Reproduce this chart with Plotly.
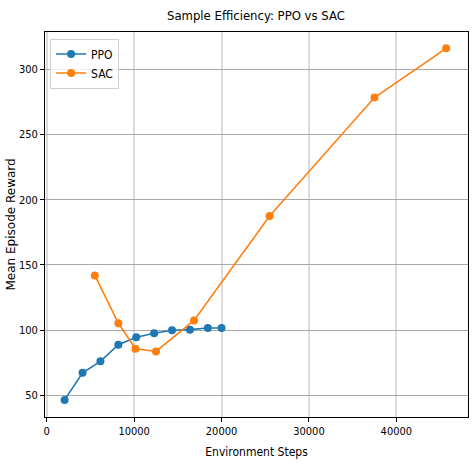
import plotly.graph_objects as go

# PPO
ppo_steps = [2048, 4096, 6144, 8192, 10240, 12288, 14336, 16384, 18432, 20000]
ppo_reward = [46.7, 67.5, 76.2, 89.0, 94.6, 97.7, 100.0, 100.5, 101.8, 101.8]

# SAC
sac_steps = [5500, 8200, 10150, 12500, 16850, 25500, 37500, 45700]
sac_reward = [142.0, 105.4, 85.9, 83.8, 107.5, 187.5, 278.2, 315.9]

font_narrow = "Liberation Sans Narrow, DejaVu Sans Condensed, Liberation Sans"

fig = go.Figure()
fig.add_scatter(
    x=ppo_steps, y=ppo_reward, mode="lines+markers", name="PPO",
    line=dict(color="#1f77b4", width=1.6),
    marker=dict(color="#1f77b4", size=8),
)
fig.add_scatter(
    x=sac_steps, y=sac_reward, mode="lines+markers", name="SAC",
    line=dict(color="#ff7f0e", width=1.6),
    marker=dict(color="#ff7f0e", size=8),
)

fig.update_xaxes(
    range=[-200, 48200], dtick=10000, tick0=0, tickformat="d",
    showgrid=True, gridcolor="#dcdcdc", gridwidth=2,
    showline=True, linecolor="black", linewidth=1, mirror=True,
    ticks="outside", ticklen=4, tickcolor="black",
    zeroline=False, automargin=False,
    tickfont=dict(family=font_narrow, size=11, color="black"),
    title=dict(text="Environment Steps", standoff=10,
               font=dict(family=font_narrow, size=12, color="black")),
)
fig.update_yaxes(
    range=[33.6, 328.4], dtick=50, tick0=0,
    showgrid=True, gridcolor="#a8a8a8", gridwidth=1,
    showline=True, linecolor="black", linewidth=1, mirror=True,
    ticks="outside", ticklen=4, tickcolor="black",
    zeroline=False, automargin=False,
    tickfont=dict(family=font_narrow, size=11, color="black"),
)

# y title as an annotation, the margin is too tight for the axis title
fig.add_annotation(
    text="Mean Episode Reward", textangle=-90,
    xref="paper", yref="paper", x=0, y=0.5, xshift=-35,
    xanchor="center", yanchor="middle",
    showarrow=False, font=dict(family="DejaVu Sans", size=12, color="black"),
)

fig.update_layout(
    width=474, height=470,
    margin=dict(l=45, r=6, t=32, b=53),
    paper_bgcolor="white", plot_bgcolor="white",
    title=dict(text="Sample Efficiency: PPO vs SAC", x=0.54, xanchor="center",
               y=0.968, yanchor="middle",
               font=dict(family=font_narrow, size=13, color="black")),
    legend=dict(x=0.012, y=0.983, xanchor="left", yanchor="top",
                bgcolor="rgba(255,255,255,0.8)", bordercolor="#d0d0d0",
                borderwidth=1, font=dict(family=font_narrow, size=12, color="black"),
                itemwidth=30, tracegroupgap=0),
    showlegend=True,
)

# drop the default body margin so the figure sits at the page corner
fig.write_html("out.html", config={"displayModeBar": False},
               post_script="document.body.style.margin = '0px';")
